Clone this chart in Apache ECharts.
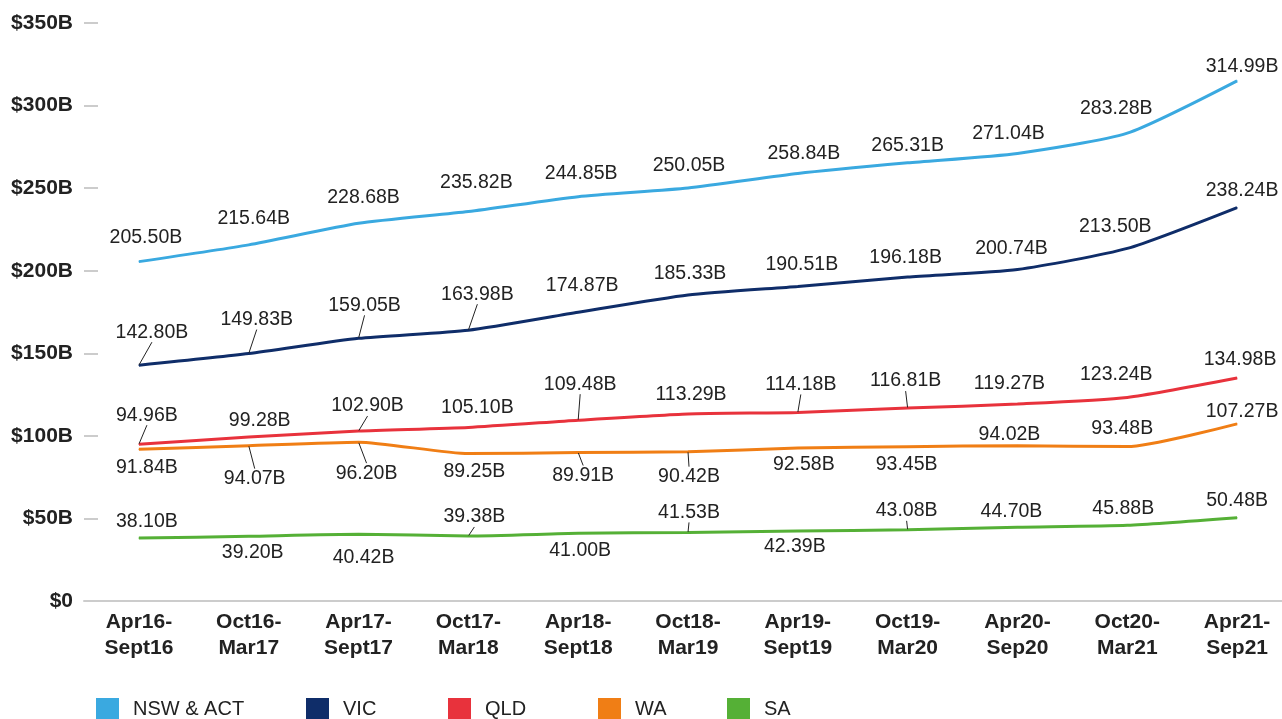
<!DOCTYPE html>
<html>
<head>
<meta charset="utf-8">
<title>Balances by state</title>
<script src="https://cdn.jsdelivr.net/npm/echarts@6/dist/echarts.min.js"></script>
<style>
  html, body { margin: 0; padding: 0; background: #fff; }
  #chart { width: 1282px; height: 719px; }
</style>
</head>
<body>
<div id="chart"></div>
<script>
// periods on the x axis
const categories = [
  'Apr16-\nSept16', 'Oct16-\nMar17', 'Apr17-\nSept17', 'Oct17-\nMar18',
  'Apr18-\nSept18', 'Oct18-\nMar19', 'Apr19-\nSept19', 'Oct19-\nMar20',
  'Apr20-\nSep20', 'Oct20-\nMar21', 'Apr21-\nSep21'
]

// values in $ billions
const nswAct = [205.50, 215.64, 228.68, 235.82, 244.85, 250.05, 258.84, 265.31, 271.04, 283.28, 314.99]
const vic = [142.80, 149.83, 159.05, 163.98, 174.87, 185.33, 190.51, 196.18, 200.74, 213.50, 238.24]
const qld = [94.96, 99.28, 102.90, 105.10, 109.48, 113.29, 114.18, 116.81, 119.27, 123.24, 134.98]
const wa = [91.84, 94.07, 96.20, 89.25, 89.91, 90.42, 92.58, 93.45, 94.02, 93.48, 107.27]
const sa = [38.10, 39.20, 40.42, 39.38, 41.00, 41.53, 42.39, 43.08, 44.70, 45.88, 50.48]

const yTicks = [0, 50, 100, 150, 200, 250, 300, 350]

// label placement: offset of each label centre from its point [dx, dy]
const nswLabelPos = [[7, -24], [5, -26], [5, -26], [8, -29], [3, -23], [1, -22], [6, -20], [0, -17], [-9, -20], [-11, -25], [5, -14]]
const vicLabelPos = [[13, -33], [8, -34], [6, -33], [9, -36], [4, -27], [2, -21], [4, -22], [-2, -19], [-6, -21], [-12, -22], [5, -17]]
const qldLabelPos = [[8, -29], [11, -16], [9, -25], [9, -20], [2, -36], [3, -19], [3, -28], [-2, -27], [-8, -20], [-11, -23], [3, -18]]
const waLabelPos = [[8, 18], [6, 33], [8, 31], [6, 18], [5, 23], [1, 25], [6, 17], [-1, 18], [-8, -11], [-5, -18], [5, -12]]
const saLabelPos = [[8, -16], [4, 16], [5, 23], [6, -19], [2, 17], [1, -20], [-3, 16], [-1, -19], [-6, -16], [-4, -17], [0, -17]]

// which labels get a leader line
const nswLeaders = []
const vicLeaders = [0, 1, 2, 3]
const qldLeaders = [0, 2, 4, 6, 7]
const waLeaders = [1, 2, 4, 5]
const saLeaders = [3, 5, 7]

const FONT = "'Liberation Sans', Arial, sans-serif"
const TEXT = '#222'

const chart = echarts.init(document.getElementById('chart'))

const makeSeries = (name, values, color, labelPos, leaders) => ({
  name,
  type: 'line',
  smooth: 0.2,
  symbol: 'circle',
  symbolSize: 1,
  showAllSymbol: true,
  lineStyle: { color, width: 3 },
  itemStyle: { color },
  emphasis: { disabled: true },
  data: values.map((v, i) => ({
    value: v,
    labelLine: { show: leaders.includes(i) }
  })),
  label: {
    show: true,
    fontFamily: FONT,
    fontSize: 19.5,
    color: TEXT,
    formatter: p => p.value.toFixed(2) + 'B'
  },
  labelLine: {
    lineStyle: { color: TEXT, width: 1 }
  },
  labelLayout: p => {
    const o = labelPos[p.dataIndex]
    return {
      x: p.rect.x + p.rect.width / 2 + o[0],
      y: p.rect.y + p.rect.height / 2 + o[1],
      align: 'center',
      verticalAlign: 'middle'
    }
  }
})

const legendAt = (name, left) => ({
  data: [name],
  left,
  top: 698,
  padding: 0,
  icon: 'rect',
  itemWidth: 23,
  itemHeight: 23,
  selectedMode: false,
  textStyle: { fontFamily: FONT, fontSize: 20, color: TEXT, padding: [0, 0, 0, 9] }
})

const option = {
  animation: false,
  backgroundColor: '#fff',
  grid: { left: 84, top: 23, width: 1208, height: 578, outerBoundsMode: 'none', containLabel: false },
  legend: [
    legendAt('NSW & ACT', 96),
    legendAt('VIC', 306),
    legendAt('QLD', 448),
    legendAt('WA', 598),
    legendAt('SA', 727)
  ],
  xAxis: {
    type: 'category',
    data: categories,
    boundaryGap: true,
    axisLine: { lineStyle: { color: '#cccccc', width: 2 } },
    axisTick: { show: false },
    axisLabel: {
      margin: 8,
      fontFamily: FONT,
      fontSize: 21,
      fontWeight: 'bold',
      lineHeight: 26,
      color: TEXT,
      interval: 0
    }
  },
  yAxis: {
    type: 'value',
    min: yTicks[0],
    max: yTicks[yTicks.length - 1],
    interval: 50,
    axisLine: { show: false },
    axisTick: { show: true, inside: true, length: 14, lineStyle: { color: '#cccccc', width: 2 } },
    splitLine: { show: false },
    axisLabel: {
      margin: 11,
      fontFamily: FONT,
      fontSize: 21,
      fontWeight: 'bold',
      color: TEXT,
      formatter: v => (v === 0 ? '$0' : '$' + v + 'B')
    }
  },
  series: [
    makeSeries('NSW & ACT', nswAct, '#3aa9e0', nswLabelPos, nswLeaders),
    makeSeries('VIC', vic, '#0f2d69', vicLabelPos, vicLeaders),
    makeSeries('QLD', qld, '#e8323c', qldLabelPos, qldLeaders),
    makeSeries('WA', wa, '#f07e15', waLabelPos, waLeaders),
    makeSeries('SA', sa, '#55b036', saLabelPos, saLeaders)
  ]
}

chart.setOption(option)
</script>
</body>
</html>
